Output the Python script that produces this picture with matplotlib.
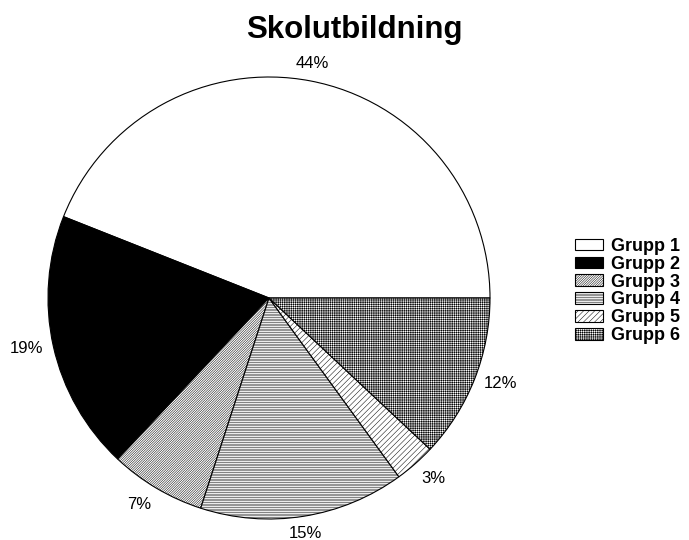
import matplotlib
matplotlib.use('Agg')
import matplotlib.pyplot as plt

plt.rcParams['font.family'] = ['Liberation Sans', 'DejaVu Sans']
plt.rcParams['hatch.linewidth'] = 0.35

groups = ['Grupp 1', 'Grupp 2', 'Grupp 3', 'Grupp 4', 'Grupp 5', 'Grupp 6']
shares = [44, 19, 7, 15, 3, 12]
fills = ['white', 'black', 'white', 'white', 'white', 'white']
hatches = ['', '', '/' * 14, '-' * 10, '/' * 6, '+' * 9]

fig = plt.figure(figsize=(6.89, 5.4), dpi=100)
# pie centred at (269, 298) px, radius ~221 px
ax = fig.add_axes([48 / 689, 21 / 540, 442 / 689, 442 / 540])

wedges, texts = ax.pie(shares, labels=[f'{v}%' for v in shares], colors=fills,
                       startangle=0, counterclock=True, labeldistance=1.045,
                       wedgeprops=dict(edgecolor='black', linewidth=0.8),
                       textprops=dict(fontsize=12))
for w, h in zip(wedges, hatches):
    w.set_hatch(h)

# labels near top/bottom sit outside the rim rather than centred on it
for t in texts:
    x, y = t.get_position()
    if abs(x) < 0.3:
        t.set_ha('center')
    if y > 0.7:
        t.set_va('bottom')
    elif y < -0.7:
        t.set_va('top')

ax.set_xlim(-1, 1)
ax.set_ylim(-1, 1)
ax.set_aspect('equal')

fig.text(354 / 689, 1 - 30 / 540, 'Skolutbildning', ha='center', va='center',
         fontsize=22.5, fontweight='bold')

leg = fig.legend(wedges, groups, loc='center left', bbox_to_anchor=(570 / 689, 1 - 291 / 540),
                 frameon=False, prop=dict(size=13, weight='bold'),
                 handlelength=1.55, handleheight=0.6, labelspacing=0.05, handletextpad=0.4,
                 borderaxespad=0, borderpad=0.3)

fig.savefig('out.png', dpi=100)
